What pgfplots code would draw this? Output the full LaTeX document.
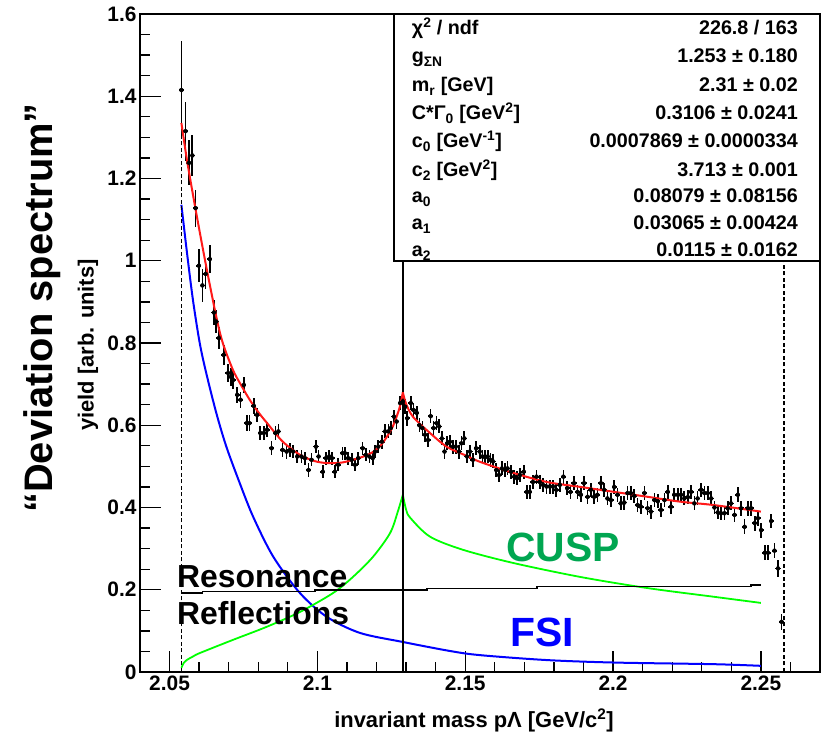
\documentclass[border=0pt]{standalone}
\usepackage{fontspec}
\setmainfont{Liberation Sans}
\usepackage{pgfplots}
\pgfplotsset{compat=1.18}
\usepackage{pgfplotstable}

\newcommand{\fsz}[1]{\fontsize{#1}{#1}\selectfont\bfseries}
\definecolor{cuspgreen}{RGB}{0,166,81}

\pgfplotstableread{
x y e
2.0540 1.415 0.120
2.0554 1.315 0.072
2.0566 1.238 0.055
2.0577 1.256 0.050
2.0588 1.128 0.045
2.0599 0.988 0.040
2.0611 0.940 0.040
2.0622 0.968 0.036
2.0636 1.004 0.034
2.0650 0.874 0.030
2.0658 0.852 0.028
2.0667 0.812 0.026
2.0683 0.771 0.024
2.0698 0.727 0.022
2.0707 0.718 0.022
2.0715 0.710 0.021
2.0729 0.674 0.020
2.0740 0.662 0.020
2.0751 0.698 0.020
2.0761 0.605 0.019
2.0770 0.605 0.019
2.0785 0.647 0.019
2.0796 0.625 0.018
2.0807 0.581 0.018
2.0819 0.581 0.018
2.0830 0.589 0.018
2.0845 0.544 0.017
2.0858 0.581 0.017
2.0868 0.585 0.017
2.0882 0.540 0.017
2.0896 0.536 0.017
2.0907 0.540 0.017
2.0918 0.536 0.016
2.0932 0.524 0.016
2.0946 0.524 0.016
2.0958 0.520 0.016
2.0970 0.491 0.016
2.0980 0.516 0.016
2.0995 0.548 0.016
2.1004 0.524 0.016
2.1018 0.487 0.016
2.1029 0.520 0.016
2.1040 0.524 0.016
2.1049 0.520 0.016
2.1059 0.487 0.016
2.1070 0.504 0.016
2.1085 0.532 0.016
2.1093 0.532 0.016
2.1104 0.520 0.016
2.1116 0.516 0.016
2.1127 0.504 0.016
2.1138 0.520 0.016
2.1153 0.544 0.016
2.1164 0.528 0.016
2.1176 0.524 0.016
2.1187 0.520 0.016
2.1195 0.536 0.016
2.1206 0.548 0.016
2.1218 0.560 0.017
2.1229 0.585 0.017
2.1240 0.585 0.017
2.1248 0.593 0.017
2.1259 0.621 0.017
2.1268 0.609 0.017
2.1280 0.654 0.018
2.1289 0.658 0.018
2.1297 0.645 0.018
2.1304 0.617 0.018
2.1316 0.654 0.018
2.1325 0.637 0.018
2.1336 0.630 0.018
2.1345 0.600 0.017
2.1355 0.593 0.017
2.1364 0.577 0.017
2.1374 0.564 0.017
2.1383 0.622 0.017
2.1393 0.593 0.017
2.1403 0.605 0.017
2.1412 0.597 0.017
2.1421 0.568 0.017
2.1430 0.536 0.017
2.1439 0.556 0.017
2.1448 0.560 0.017
2.1458 0.548 0.017
2.1468 0.548 0.017
2.1479 0.536 0.017
2.1487 0.556 0.017
2.1497 0.568 0.017
2.1506 0.524 0.017
2.1516 0.536 0.017
2.1526 0.516 0.017
2.1537 0.544 0.017
2.1549 0.536 0.017
2.1558 0.524 0.017
2.1567 0.522 0.017
2.1576 0.524 0.017
2.1585 0.516 0.017
2.1594 0.512 0.017
2.1605 0.491 0.017
2.1614 0.479 0.017
2.1624 0.495 0.017
2.1635 0.491 0.017
2.1643 0.495 0.017
2.1655 0.487 0.017
2.1666 0.475 0.017
2.1675 0.471 0.017
2.1685 0.479 0.017
2.1698 0.487 0.017
2.1708 0.438 0.017
2.1718 0.438 0.017
2.1729 0.462 0.017
2.1741 0.475 0.017
2.1752 0.462 0.017
2.1763 0.455 0.017
2.1775 0.451 0.017
2.1786 0.451 0.017
2.1797 0.451 0.017
2.1808 0.443 0.017
2.1820 0.455 0.017
2.1832 0.475 0.017
2.1845 0.447 0.017
2.1856 0.438 0.017
2.1868 0.459 0.017
2.1880 0.438 0.017
2.1891 0.431 0.017
2.1902 0.459 0.017
2.1914 0.426 0.017
2.1925 0.443 0.017
2.1936 0.426 0.017
2.1947 0.431 0.017
2.1959 0.459 0.017
2.1970 0.443 0.017
2.1981 0.422 0.017
2.1993 0.418 0.017
2.2004 0.450 0.017
2.2015 0.431 0.017
2.2026 0.410 0.017
2.2038 0.412 0.017
2.2049 0.435 0.017
2.2060 0.435 0.017
2.2072 0.428 0.017
2.2083 0.406 0.017
2.2094 0.402 0.017
2.2106 0.435 0.017
2.2117 0.398 0.017
2.2128 0.390 0.017
2.2140 0.418 0.017
2.2151 0.415 0.017
2.2162 0.394 0.017
2.2174 0.418 0.017
2.2185 0.438 0.017
2.2196 0.402 0.017
2.2207 0.431 0.017
2.2219 0.431 0.017
2.2230 0.431 0.017
2.2241 0.422 0.017
2.2253 0.425 0.017
2.2264 0.438 0.017
2.2275 0.410 0.017
2.2286 0.422 0.017
2.2298 0.443 0.017
2.2309 0.435 0.017
2.2320 0.435 0.017
2.2332 0.422 0.017
2.2343 0.400 0.017
2.2354 0.388 0.017
2.2365 0.386 0.017
2.2377 0.386 0.017
2.2388 0.398 0.017
2.2399 0.410 0.017
2.2411 0.382 0.017
2.2422 0.431 0.018
2.2433 0.398 0.018
2.2445 0.353 0.018
2.2456 0.398 0.018
2.2467 0.398 0.018
2.2479 0.362 0.018
2.2490 0.374 0.018
2.2501 0.345 0.018
2.2513 0.290 0.018
2.2524 0.290 0.018
2.2535 0.367 0.018
2.2546 0.295 0.018
2.2558 0.252 0.020
2.2570 0.122 0.020
}\datatable

\begin{document}
\begin{tikzpicture}
\path[use as bounding box] (0,0) rectangle (822bp,738bp);
\begin{axis}[
  at={(140bp,66bp)}, anchor=south west, scale only axis,
  width=680bp, height=658bp,
  xmin=2.04, xmax=2.27, ymin=0, ymax=1.6,
  xtick={2.05,2.1,2.15,2.2,2.25},
  xticklabels={2.05,2.1,2.15,2.2,2.25},
  minor xtick={2.06,2.07,2.08,2.09,2.11,2.12,2.13,2.14,2.16,2.17,2.18,2.19,2.21,2.22,2.23,2.24,2.26},
  ytick={0,0.2,0.4,0.6,0.8,1,1.2,1.4,1.6},
  yticklabels={0,0.2,0.4,0.6,0.8,1,1.2,1.4,1.6},
  minor ytick={0.05,0.1,0.15,0.25,0.3,0.35,0.45,0.5,0.55,0.65,0.7,0.75,0.85,0.9,0.95,1.05,1.1,1.15,1.25,1.3,1.35,1.45,1.5,1.55},
  xtick pos=bottom, ytick pos=left, tick align=inside,
  major tick length=21bp, minor tick length=10bp,
  every tick/.style={black, line width=1.3bp},
  axis line style={line width=1.6bp},
  ticklabel style={font=\fsz{21}},
]
% components
\addplot[blue, line width=2bp, smooth] coordinates {
(2.0540,1.136)(2.0559,1.019)(2.0579,0.905)(2.0602,0.800)(2.0624,0.727)(2.0658,0.630)
(2.0692,0.548)(2.0737,0.460)(2.0783,0.377)(2.0851,0.280)(2.0941,0.192)(2.1032,0.134)
(2.1144,0.095)(2.1289,0.073)(2.1449,0.051)(2.1550,0.041)(2.1776,0.029)(2.2003,0.023)
(2.2340,0.019)(2.2500,0.015)};
\addplot[green, line width=1.8bp, smooth] coordinates {
(2.0540,0.010)(2.0548,0.022)(2.0560,0.030)(2.0580,0.038)(2.0602,0.046)(2.0714,0.078)
(2.0829,0.110)(2.0941,0.146)(2.1053,0.192)(2.1120,0.231)(2.1188,0.280)(2.1246,0.338)
(2.1272,0.390)(2.1289,0.431)};
\addplot[green, line width=1.8bp, smooth] coordinates {
(2.1289,0.431)(2.1300,0.395)(2.1314,0.375)(2.1381,0.329)(2.1493,0.297)(2.1663,0.265)
(2.1890,0.231)(2.2117,0.204)(2.2340,0.183)(2.2500,0.168)};
\addplot[black, line width=1.5bp, const plot] coordinates {
(2.0540,0.1915)(2.0612,0.1955)(2.0992,0.1995)(2.1370,0.2036)(2.1743,0.2076)(2.2466,0.2117)(2.2500,0.2117)};
% guide lines
\addplot[black, line width=1.3bp, dash pattern=on 4bp off 2.5bp] coordinates {(2.0540,0)(2.0540,1.39)};
\addplot[black, line width=1.3bp, dash pattern=on 4bp off 2.5bp] coordinates {(2.2578,0)(2.2578,1.0)};
\addplot[black, line width=1.4bp] coordinates {(2.1289,0)(2.1289,1.0)};
% data
\addplot[black, only marks, mark=none,
  error bars/.cd, y dir=both, y explicit, x dir=both, x fixed=0.0009,
  error mark=none, error bar style={line width=1.7bp, black}]
  table[x=x, y=y, y error=e]{\datatable};
% fit
\addplot[red!90!white, line width=2bp, smooth] coordinates {
(2.0540,1.335)(2.0560,1.240)(2.0590,1.117)(2.0624,0.986)(2.0658,0.864)(2.0680,0.800)
(2.0714,0.735)(2.0740,0.700)(2.0771,0.662)(2.0800,0.632)(2.0829,0.606)(2.0883,0.560)
(2.0941,0.528)(2.0990,0.513)(2.1032,0.508)(2.1080,0.509)(2.1120,0.516)(2.1160,0.525)
(2.1188,0.535)(2.1215,0.552)(2.1235,0.572)(2.1255,0.597)(2.1270,0.625)(2.1280,0.648)
(2.1289,0.680)};
\addplot[red!90!white, line width=2bp, smooth] coordinates {
(2.1289,0.680)(2.1300,0.652)(2.1324,0.620)(2.1381,0.581)(2.1437,0.548)(2.1500,0.527)
(2.1550,0.511)(2.1663,0.484)(2.1776,0.462)(2.1890,0.450)(2.2003,0.438)(2.2117,0.426)
(2.2229,0.414)(2.2340,0.406)(2.2500,0.390)};
% stats box
\draw[black, line width=1.6bp, fill=white] (axis cs:2.1259,1.0) rectangle (axis cs:2.27,1.6);
\end{axis}
% stats text
\begin{scope}[every node/.style={inner sep=0pt, font=\fsz{19.8}}]
\node[anchor=base west] at (411.7bp,703bp) {χ\textsuperscript{2} / ndf};
\node[anchor=base east] at (798bp,703bp) {226.8 / 163};
\node[anchor=base west] at (411.7bp,675bp) {g\textsubscript{ΣN}};
\node[anchor=base east] at (798bp,675bp) {1.253 ± 0.180};
\node[anchor=base west] at (411.7bp,646bp) {m\textsubscript{r} [GeV]};
\node[anchor=base east] at (798bp,646bp) {2.31 ± 0.02};
\node[anchor=base west] at (411.7bp,618bp) {C*Γ\textsubscript{0} [GeV\textsuperscript{2}]};
\node[anchor=base east] at (798bp,618bp) {0.3106 ± 0.0241};
\node[anchor=base west] at (411.7bp,590bp) {c\textsubscript{0} [GeV\textsuperscript{-1}]};
\node[anchor=base east] at (798bp,590bp) {0.0007869 ± 0.0000334};
\node[anchor=base west] at (411.7bp,561bp) {c\textsubscript{2} [GeV\textsuperscript{2}]};
\node[anchor=base east] at (798bp,561bp) {3.713 ± 0.001};
\node[anchor=base west] at (411.7bp,535bp) {a\textsubscript{0}};
\node[anchor=base east] at (798bp,535bp) {0.08079 ± 0.08156};
\node[anchor=base west] at (411.7bp,508bp) {a\textsubscript{1}};
\node[anchor=base east] at (798bp,508bp) {0.03065 ± 0.00424};
\node[anchor=base west] at (411.7bp,481bp) {a\textsubscript{2}};
\node[anchor=base east] at (798bp,481bp) {0.0115 ± 0.0162};
\end{scope}
% annotations
\node[anchor=base west, inner sep=0pt, font=\fsz{32}] at (177bp,150bp) {Resonance};
\node[anchor=base west, inner sep=0pt, font=\fsz{32}] at (177bp,113bp) {Reflections};
\node[anchor=base west, inner sep=0pt, font=\fsz{41}, text=cuspgreen] at (506bp,176bp) {CUSP};
\node[anchor=base west, inner sep=0pt, font=\fsz{41}, text=blue] at (510bp,91bp) {FSI};
% axis titles
\node[anchor=base, inner sep=0pt, font=\fsz{22}] at (474bp,11bp) {invariant mass pΛ [GeV/c\textsuperscript{2}]};
\node[rotate=90, inner sep=0pt, font=\fsz{22}] at (88bp,393bp) {yield [arb. units]};
\node[rotate=90, inner sep=0pt, font=\fsz{40}] at (42bp,430bp) {“Deviation spectrum”};
\end{tikzpicture}
\end{document}
